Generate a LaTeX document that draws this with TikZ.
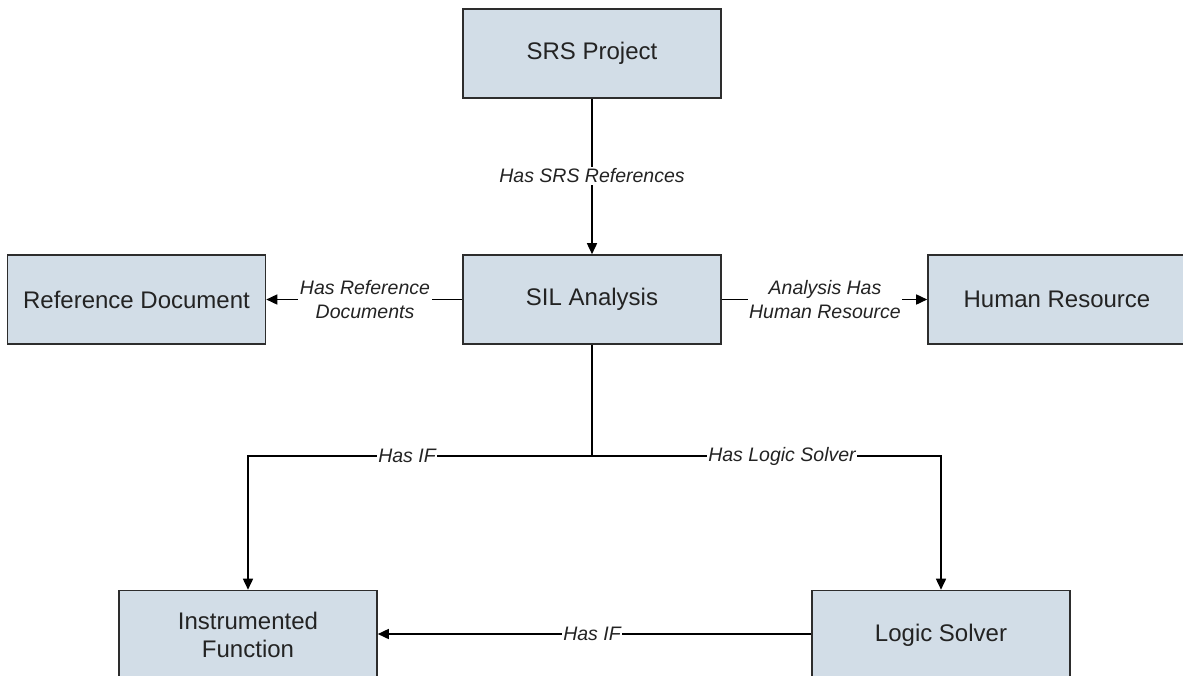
\documentclass[tikz,border=0pt]{standalone}
\usepackage{fontspec}
\setmainfont{Liberation Sans}
\usetikzlibrary{arrows.meta}
\definecolor{boxfill}{RGB}{210,221,231}
\definecolor{boxline}{RGB}{45,45,45}
\definecolor{txt}{RGB}{35,35,35}
\tikzset{
  entity/.style={draw=boxline, line width=1.6pt, fill=boxfill, rectangle,
    minimum width=258pt, minimum height=89pt, inner sep=0pt, align=center,
    text=txt, font=\fontsize{24}{28}\selectfont},
  rel/.style={fill=white, inner sep=1.5pt, align=center, text=txt,
    font=\fontsize{19.5}{24}\selectfont\itshape},
  conn/.style={draw=black, line width=1.6pt},
  arr/.style={conn, -{Triangle[length=11pt,width=10pt]}},
}
\begin{document}
\begin{tikzpicture}[x=1pt,y=-1pt]
\useasboundingbox (0,0) rectangle (1183,675);
\node[entity] (srs) at (592,53.5) {SRS Project};
\node[entity] (sil) at (592,299.5) {SIL Analysis};
\node[entity] (ref) at (136.5,299.5) {Reference Document};
\node[entity] (hr) at (1057,299.5) {Human Resource};
\node[entity] (if) at (248,635) {Instrumented\\Function};
\node[entity] (ls) at (941,635) {Logic Solver};
\coordinate (j) at (592,456);
\coordinate (jl) at (248,456);
\coordinate (jr) at (941,456);
% SRS -> SIL
\draw[arr] (srs.south) -- (sil.north);
\node[rel] (l1) at (592,176) {Has SRS References};
% SIL -> Ref
\draw[arr] (sil.west) -- (ref.east);
\node[rel] (l2) at (365,300) {Has Reference\\Documents};
% SIL -> HR
\draw[arr] (sil.east) -- (hr.west);
\node[rel] (l3) at (825,300) {Analysis Has\\Human Resource};
% SIL -> IF / LS
\draw[conn] (sil.south) -- (j);
\draw[arr] (j) -- (jl) -- (if.north);
\draw[arr] (j) -- (jr) -- (ls.north);
\node[rel] (l4) at (407,456) {Has IF};
\node[rel] (l5) at (782,456) {Has Logic Solver};
% LS -> IF
\draw[arr] (ls.west |- 0,634) -- (if.east |- 0,634);
\node[rel] (l6) at (592,634) {Has IF};
\end{tikzpicture}
\end{document}
